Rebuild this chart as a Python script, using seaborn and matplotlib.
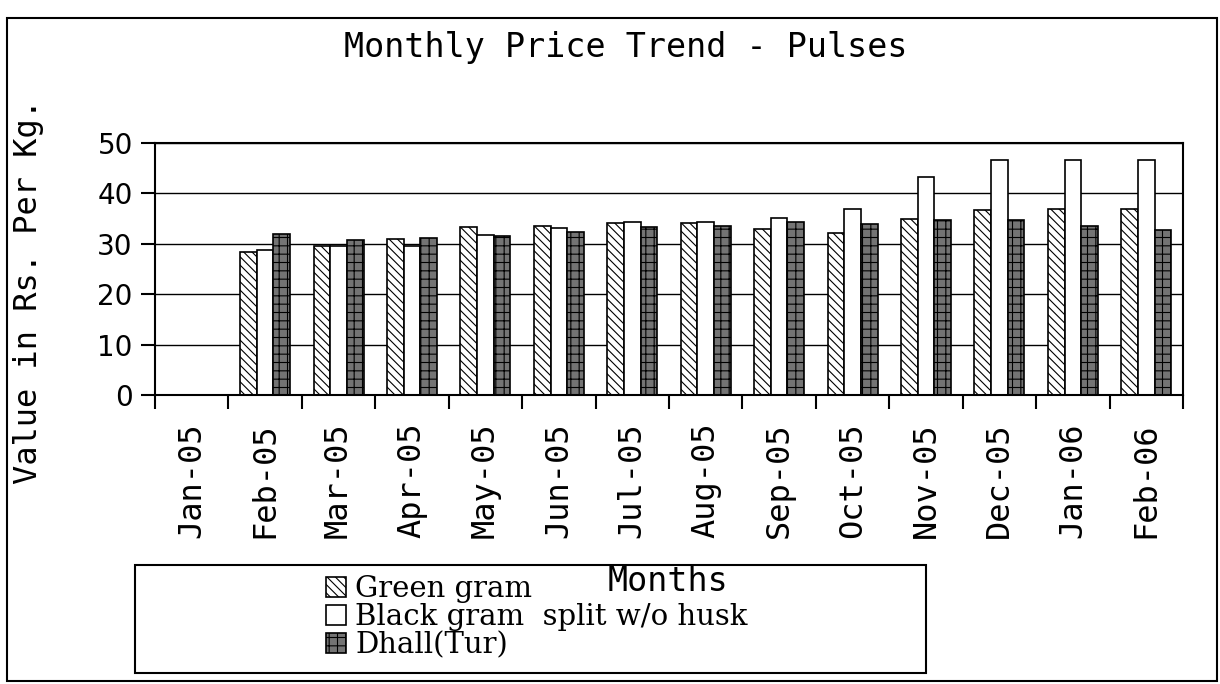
import numpy as np
import pandas as pd
import matplotlib
matplotlib.use("Agg")
import matplotlib.pyplot as plt
from matplotlib.patches import Rectangle
from matplotlib.ticker import FixedLocator
import seaborn as sns

# =========================
# Data (Rs. per Kg.)
# =========================
months = ["Jan-05", "Feb-05", "Mar-05", "Apr-05", "May-05", "Jun-05", "Jul-05",
          "Aug-05", "Sep-05", "Oct-05", "Nov-05", "Dec-05", "Jan-06", "Feb-06"]
items = ["Green gram", "Black gram  split w/o husk", "Dhall(Tur)"]

green_gram = [0, 28.3, 29.5, 30.9, 33.3, 33.6, 34.1, 34.1, 33.0, 32.1, 35.0, 36.7, 36.9, 37.0]
black_gram = [0, 28.8, 29.5, 29.5, 31.8, 33.1, 34.3, 34.4, 35.2, 36.9, 43.3, 46.6, 46.6, 46.6]
dhall_tur = [0, 32.0, 30.8, 31.1, 31.6, 32.3, 33.4, 33.6, 34.4, 34.0, 34.8, 34.8, 33.6, 32.8]
y_ticks = [0, 10, 20, 30, 40, 50]

df = pd.DataFrame({
    "Month": months * 3,
    "Item": [items[0]] * 14 + [items[1]] * 14 + [items[2]] * 14,
    "Value": green_gram + black_gram + dhall_tur,
})

# =========================
# Style
# =========================
sns.set_style("white")
plt.rcParams["hatch.linewidth"] = 0.8
plt.rcParams["text.color"] = "black"
plt.rcParams["axes.labelcolor"] = "black"
plt.rcParams["xtick.color"] = "black"
plt.rcParams["ytick.color"] = "black"
plt.rcParams["ytick.left"] = True
plt.rcParams["xtick.bottom"] = True
plt.rcParams["ytick.major.size"] = 10
plt.rcParams["ytick.major.width"] = 1.5
plt.rcParams["ytick.minor.size"] = 10
plt.rcParams["ytick.minor.width"] = 1.5
plt.rcParams["ytick.direction"] = "out"
mono = "DejaVu Sans Mono"

fig = plt.figure(figsize=(12.2, 6.84), dpi=100)
ax = fig.add_axes([155 / 1220, 1 - 395 / 684, 1028 / 1220, 252 / 684])

faces = ["white", "white", "#747474"]
hatches = ["\\\\\\\\", "", "++"]

sns.barplot(data=df, x="Month", y="Value", hue="Item", order=months,
            hue_order=items, palette=faces, width=0.68, edgecolor="black",
            linewidth=1.2, saturation=1, legend=False, ax=ax)

# hatch patterns, bars kept above the grid lines
for cont, h, fc in zip(ax.containers, hatches, faces):
    for p in cont.patches:
        p.set_hatch(h)
        p.set_facecolor(fc)
        p.set_edgecolor("black")
        p.set_zorder(3)

# axes, grid, ticks
ax.set_ylim(0, 50)
ax.set_xlim(-0.5, len(months) - 0.5)
ax.set_yticks(y_ticks)
ax.yaxis.set_minor_locator(FixedLocator(y_ticks))
for yv in y_ticks[1:]:
    ax.axhline(yv, color="black", linewidth=1, zorder=1)
for s in ax.spines.values():
    s.set_visible(True)
    s.set_color("black")
    s.set_linewidth(1.5)
    s.set_zorder(4)

ax.set_xticks(np.arange(len(months)))
ax.set_xticklabels(months, rotation=90, family=mono, fontsize=23)
ax.set_xticks(np.arange(-0.5, len(months), 1), minor=True)
ax.tick_params(axis="x", which="major", bottom=True, length=0, pad=20)
ax.tick_params(axis="x", which="minor", bottom=True, length=10, width=1.5,
               direction="out", color="black")
ax.tick_params(axis="y", which="both", left=True, length=10, width=1.5,
               direction="out", color="black")
ax.tick_params(axis="y", which="major", labelsize=20, pad=6)
for t in ax.get_yticklabels():
    t.set_family("DejaVu Sans")

ax.set_ylabel("Value in Rs. Per Kg.", family=mono, fontsize=23)
ax.yaxis.set_label_coords(-0.108, 0.41)
ax.set_xlabel("Months", family=mono, fontsize=24)
ax.xaxis.set_label_coords(0.499, -0.675)

fig.text(626 / 1220, 1 - 47 / 684, "Monthly Price Trend - Pulses",
         family=mono, fontsize=24, ha="center", va="center")

# legend (separate box, no frame on the legend itself)
ax.legend(handles=list(ax.containers), labels=items, frameon=False,
          loc="upper left", bbox_to_anchor=(326 / 1220, 1 - 575 / 684),
          bbox_transform=fig.transFigure, prop={"family": "DejaVu Serif", "size": 21},
          handlelength=0.7, handleheight=0.7, handletextpad=0.3,
          labelspacing=0.0, borderpad=0, borderaxespad=0)

fig.patches.append(Rectangle((135 / 1220, 1 - 673 / 684), 791 / 1220, 108 / 684,
                             transform=fig.transFigure, fill=False,
                             edgecolor="black", linewidth=1.5))
fig.patches.append(Rectangle((7 / 1220, 1 - 681 / 684), 1210 / 1220, 663 / 684,
                             transform=fig.transFigure, fill=False,
                             edgecolor="black", linewidth=1.5))

fig.savefig("out.png", dpi=100)
